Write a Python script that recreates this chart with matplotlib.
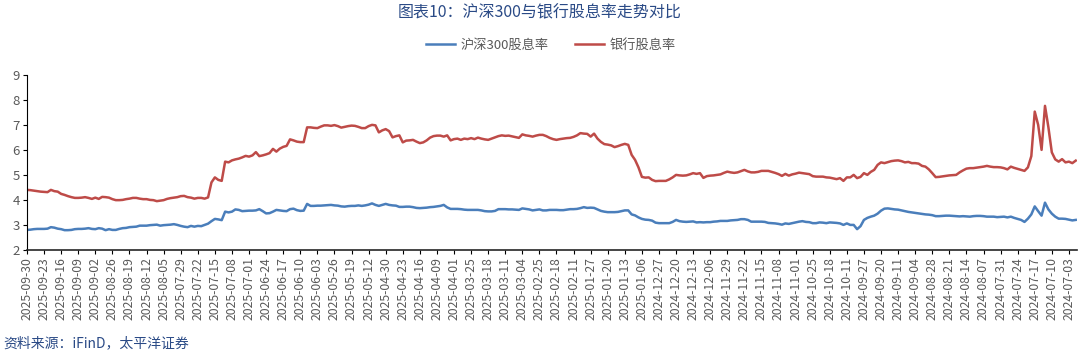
import matplotlib
matplotlib.use('Agg')
import matplotlib.pyplot as plt
import numpy as np

plt.rcParams['font.family'] = ['Noto Sans CJK SC', 'DejaVu Sans']

# tick labels, one every 5 trading days (newest on the left)
tick_labels = [
    '2025-09-30', '2025-09-23', '2025-09-16', '2025-09-09', '2025-09-02', '2025-08-26',
    '2025-08-19', '2025-08-12', '2025-08-05', '2025-07-29', '2025-07-22', '2025-07-15',
    '2025-07-08', '2025-07-01', '2025-06-24', '2025-06-17', '2025-06-10', '2025-06-03',
    '2025-05-26', '2025-05-19', '2025-05-12', '2025-04-30', '2025-04-23', '2025-04-16',
    '2025-04-09', '2025-04-01', '2025-03-25', '2025-03-18', '2025-03-11', '2025-03-04',
    '2025-02-25', '2025-02-18', '2025-02-11', '2025-01-27', '2025-01-20', '2025-01-13',
    '2025-01-06', '2024-12-27', '2024-12-20', '2024-12-13', '2024-12-06', '2024-11-29',
    '2024-11-22', '2024-11-15', '2024-11-08', '2024-11-01', '2024-10-25', '2024-10-18',
    '2024-10-11', '2024-09-27', '2024-09-20', '2024-09-11', '2024-09-04', '2024-08-28',
    '2024-08-21', '2024-08-14', '2024-08-07', '2024-07-31', '2024-07-24', '2024-07-17',
    '2024-07-10', '2024-07-03',
]

# 沪深300股息率 (%), one value per trading day
hs300 = [
    2.80, 2.81, 2.83, 2.84, 2.84, 2.84, 2.85, 2.91, 2.89, 2.85,
    2.83, 2.79, 2.79, 2.80, 2.83, 2.84, 2.84, 2.85, 2.87, 2.84,
    2.83, 2.87, 2.85, 2.79, 2.83, 2.80, 2.80, 2.84, 2.87, 2.88,
    2.91, 2.92, 2.93, 2.97, 2.97, 2.97, 2.99, 3.00, 3.01, 2.97,
    2.99, 3.00, 3.01, 3.03, 3.00, 2.96, 2.93, 2.91, 2.96, 2.93,
    2.96,
    2.95, 3.00, 3.05, 3.15, 3.24, 3.22, 3.19, 3.53, 3.50, 3.53,
    3.62, 3.60, 3.55, 3.56, 3.57, 3.57, 3.58, 3.63, 3.55, 3.46,
    3.47, 3.53, 3.60, 3.58, 3.56, 3.55, 3.63, 3.65, 3.59, 3.56,
    3.57, 3.84, 3.76, 3.76, 3.77, 3.77, 3.78, 3.79, 3.80, 3.78,
    3.77, 3.74, 3.73, 3.75, 3.76, 3.76, 3.78, 3.76, 3.78, 3.81,
    3.86, 3.80, 3.76, 3.80, 3.84, 3.80, 3.78, 3.77, 3.72, 3.72,
    3.73, 3.73, 3.71, 3.68, 3.67, 3.68, 3.69, 3.71, 3.72, 3.74,
    3.76, 3.80, 3.70, 3.64, 3.64, 3.64, 3.63, 3.61, 3.60, 3.60,
    3.60, 3.60, 3.58, 3.55, 3.54, 3.54, 3.56, 3.63, 3.63, 3.63,
    3.62, 3.62, 3.61, 3.60, 3.66, 3.64, 3.62, 3.58, 3.60, 3.62,
    3.58, 3.58, 3.60, 3.60, 3.60, 3.59, 3.59, 3.61, 3.63, 3.63,
    3.64, 3.67, 3.71, 3.68, 3.69, 3.68, 3.62, 3.56, 3.53, 3.51,
    3.51, 3.51, 3.52, 3.55, 3.58, 3.58, 3.42, 3.38, 3.30, 3.24,
    3.21, 3.20, 3.17, 3.09, 3.07, 3.07, 3.07, 3.07, 3.12, 3.20,
    3.15, 3.13, 3.12, 3.13, 3.14, 3.10, 3.11, 3.10, 3.11, 3.11,
    3.13, 3.14, 3.16, 3.16, 3.16, 3.18, 3.19, 3.20, 3.23, 3.23,
    3.20, 3.13, 3.13, 3.13, 3.13, 3.12, 3.08, 3.07, 3.06, 3.04,
    3.01, 3.06, 3.04, 3.07, 3.10, 3.13, 3.15, 3.12, 3.11, 3.07,
    3.07, 3.10, 3.09, 3.07, 3.10, 3.09, 3.08, 3.06, 3.00, 3.06,
    3.00, 3.00, 2.83, 2.95, 3.20, 3.28, 3.33, 3.37, 3.45, 3.57,
    3.65, 3.66, 3.64, 3.62, 3.61, 3.58, 3.55, 3.52, 3.50, 3.48,
    3.46, 3.44, 3.42, 3.41, 3.39, 3.35, 3.35, 3.36, 3.37, 3.37,
    3.36, 3.35, 3.34, 3.35, 3.34, 3.33, 3.35, 3.36, 3.36, 3.35,
    3.33, 3.33, 3.33, 3.31, 3.32, 3.33, 3.30, 3.33, 3.28, 3.24,
    3.20, 3.12, 3.25, 3.42, 3.74, 3.55, 3.37, 3.89, 3.62, 3.45,
    3.33, 3.25, 3.25, 3.24, 3.21, 3.18, 3.20,
]

# 银行股息率 (%)
bank = [
    4.40, 4.39, 4.37, 4.35, 4.33, 4.32, 4.31, 4.40, 4.35, 4.33,
    4.24, 4.20, 4.15, 4.11, 4.08, 4.08, 4.09, 4.11, 4.08, 4.04,
    4.09, 4.04, 4.12, 4.11, 4.09, 4.03, 3.99, 3.99, 4.00, 4.03,
    4.05, 4.08, 4.08, 4.05, 4.03, 4.03, 4.00, 3.99, 3.95, 3.97,
    3.99, 4.04, 4.07, 4.09, 4.11, 4.15, 4.16, 4.11, 4.09, 4.05,
    4.08,
    4.08, 4.05, 4.10, 4.70, 4.90, 4.80, 4.76, 5.53, 5.50, 5.58,
    5.62, 5.65, 5.70, 5.76, 5.73, 5.78, 5.91, 5.75, 5.78, 5.82,
    5.87, 6.04, 5.93, 6.05, 6.12, 6.16, 6.42, 6.38, 6.33, 6.31,
    6.31, 6.90, 6.90, 6.88, 6.87, 6.93, 6.98, 6.98, 6.96, 6.99,
    6.95, 6.89, 6.92, 6.95, 6.97, 6.96, 6.92, 6.87, 6.87, 6.95,
    7.00, 6.98, 6.70, 6.78, 6.83, 6.75, 6.50, 6.55, 6.58, 6.30,
    6.37, 6.38, 6.40, 6.33, 6.27, 6.30, 6.38, 6.49, 6.55, 6.57,
    6.57, 6.53, 6.58, 6.38, 6.43, 6.45, 6.40, 6.45, 6.43, 6.47,
    6.43, 6.49, 6.45, 6.42, 6.40, 6.45, 6.50, 6.55, 6.58, 6.56,
    6.57, 6.54, 6.51, 6.48, 6.62, 6.58, 6.56, 6.53, 6.57, 6.60,
    6.60, 6.55, 6.48, 6.43, 6.40, 6.43, 6.45, 6.47, 6.48, 6.52,
    6.58, 6.67, 6.65, 6.64, 6.53, 6.65, 6.45, 6.32, 6.23, 6.21,
    6.18, 6.11, 6.15, 6.20, 6.24, 6.20, 5.80, 5.60, 5.30, 4.92,
    4.89, 4.90, 4.80, 4.75, 4.76, 4.76, 4.76, 4.82, 4.90, 5.00,
    4.98, 4.97, 4.98, 5.02, 5.07, 5.04, 5.07, 4.88, 4.95, 4.97,
    4.98, 5.00, 5.02, 5.08, 5.13, 5.10, 5.08, 5.10, 5.15, 5.20,
    5.14, 5.10, 5.10, 5.12, 5.16, 5.16, 5.16, 5.12, 5.08, 5.03,
    4.96, 5.04, 4.97, 5.02, 5.05, 5.09, 5.07, 5.05, 5.03, 4.95,
    4.93, 4.93, 4.93, 4.90, 4.89, 4.86, 4.83, 4.87, 4.76, 4.90,
    4.90, 5.00, 4.87, 4.92, 5.07, 5.00, 5.12, 5.20, 5.40, 5.50,
    5.47, 5.51, 5.55, 5.57, 5.58, 5.55, 5.50, 5.52, 5.47, 5.47,
    5.45, 5.36, 5.33, 5.22, 5.07, 4.91, 4.92, 4.94, 4.96, 4.98,
    4.99, 5.00, 5.10, 5.18, 5.25, 5.27, 5.27, 5.29, 5.31, 5.33,
    5.36, 5.33, 5.31, 5.31, 5.30, 5.27, 5.22, 5.33, 5.28, 5.24,
    5.20, 5.16, 5.30, 5.75, 7.53, 7.00, 6.00, 7.76, 6.90, 5.90,
    5.62, 5.53, 5.63, 5.50, 5.53, 5.47, 5.57,
]

n = min(len(hs300), len(bank))
x = np.arange(n)

fig = plt.figure(figsize=(10.8, 3.53), dpi=100)
ax = fig.add_axes([0.025, 0.292, 0.972, 0.496])

ax.plot(x, hs300[:n], color='#4a7ebb', lw=1.8, label='沪深300股息率')
ax.plot(x, bank[:n], color='#be4b48', lw=1.8, label='银行股息率')

ax.set_xlim(0, n - 0.7)
ax.set_ylim(2, 9)
ax.set_yticks(range(2, 10))
ax.set_xticks(np.arange(len(tick_labels)) * 5)
ax.set_xticklabels(tick_labels, rotation=90, fontsize=8.8, color='#595959')
ax.tick_params(axis='y', labelsize=9.5, labelcolor='#595959', length=3, width=0.8,
               direction='out', pad=2)
ax.tick_params(axis='x', length=3, width=0.8, direction='out', pad=2)

for s in ['top', 'right']:
    ax.spines[s].set_visible(False)
ax.spines['left'].set_color('#000000')
ax.spines['bottom'].set_color('#262626')
ax.spines['left'].set_linewidth(0.8)
ax.spines['bottom'].set_linewidth(1.2)

fig.text(0.5, 0.965, '图表10：沪深300与银行股息率走势对比', ha='center', va='center',
         fontsize=11.5, color='#2a4a86')
fig.legend(loc='center', bbox_to_anchor=(0.51, 0.872), ncol=2, frameon=False,
           fontsize=9.5, labelcolor='#595959', handlelength=2.2, columnspacing=2.0,
           handletextpad=0.4)
fig.text(0.003, 0.028, '资料来源：iFinD，太平洋证券', ha='left', va='center',
         fontsize=10, color='#2a4a86', style='italic')

fig.savefig('out.png', dpi=100)
